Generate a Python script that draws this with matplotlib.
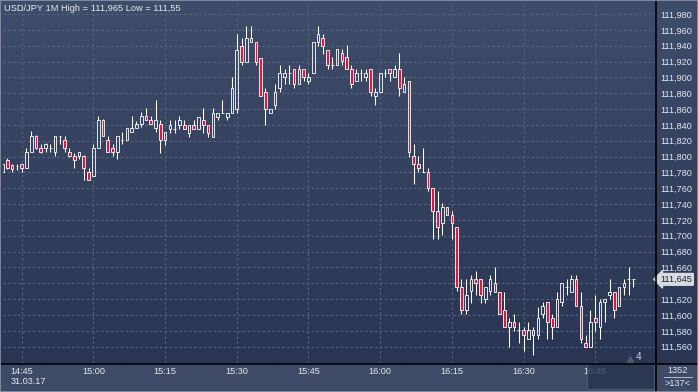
import numpy as np
import matplotlib

matplotlib.use("Agg")
from matplotlib import pyplot as plt
from matplotlib.lines import Line2D
from matplotlib.patches import Rectangle
from matplotlib.transforms import blended_transform_factory

# * ------------------------------------------------------------------ * #
# * DATA  (USD/JPY, 1 minute candles, 31.03.17; minute 0 = 14:45)

minutes = list(range(-4, 129))

opens = [
    111.781, 111.796, 111.789, 111.788, 111.790, 111.785, 111.806, 111.826, 111.811, 111.811,
    111.811, 111.806, 111.826, 111.821, 111.806, 111.801, 111.801, 111.801, 111.781, 111.776,
    111.811, 111.846, 111.821, 111.811, 111.806, 111.821, 111.821, 111.831, 111.836, 111.841,
    111.851, 111.846, 111.836, 111.841, 111.821, 111.835, 111.835, 111.840, 111.840, 111.830,
    111.840, 111.835, 111.846, 111.840, 111.825, 111.850, 111.855, 111.850, 111.855, 111.860,
    111.940, 111.920, 111.945, 111.945, 111.925, 111.881, 111.855, 111.865, 111.886, 111.900,
    111.905, 111.910, 111.891, 111.910, 111.896, 111.905, 111.945, 111.950, 111.935, 111.916,
    111.916, 111.931, 111.926, 111.911, 111.896, 111.905, 111.900, 111.911, 111.876, 111.881,
    111.905, 111.911, 111.900, 111.911, 111.881, 111.896, 111.801, 111.791, 111.780, 111.780,
    111.760, 111.731, 111.716, 111.736, 111.726, 111.711, 111.635, 111.606, 111.630, 111.645,
    111.645, 111.620, 111.630, 111.640, 111.629, 111.606, 111.585, 111.591, 111.581, 111.581,
    111.570, 111.581, 111.575, 111.601, 111.616, 111.596, 111.585, 111.616, 111.635, 111.629,
    111.645, 111.611, 111.565, 111.560, 111.596, 111.585, 111.616, 111.625, 111.629, 111.611,
    111.635, 111.645, 111.645,
]
highs = [
    111.791, 111.798, 111.791, 111.790, 111.791, 111.811, 111.832, 111.827, 111.816, 111.817,
    111.816, 111.826, 111.826, 111.826, 111.811, 111.805, 111.806, 111.802, 111.786, 111.816,
    111.851, 111.847, 111.826, 111.816, 111.826, 111.831, 111.836, 111.851, 111.845, 111.856,
    111.861, 111.851, 111.872, 111.846, 111.831, 111.846, 111.846, 111.851, 111.846, 111.840,
    111.846, 111.850, 111.861, 111.840, 111.861, 111.855, 111.871, 111.855, 111.900, 111.955,
    111.950, 111.965, 111.965, 111.945, 111.925, 111.886, 111.860, 111.891, 111.915, 111.910,
    111.915, 111.910, 111.915, 111.910, 111.905, 111.945, 111.965, 111.955, 111.935, 111.926,
    111.936, 111.936, 111.941, 111.916, 111.911, 111.911, 111.911, 111.911, 111.887, 111.905,
    111.911, 111.911, 111.916, 111.931, 111.900, 111.896, 111.816, 111.801, 111.811, 111.785,
    111.760, 111.756, 111.741, 111.736, 111.731, 111.711, 111.645, 111.645, 111.651, 111.656,
    111.645, 111.635, 111.651, 111.660, 111.629, 111.629, 111.596, 111.601, 111.591, 111.585,
    111.591, 111.585, 111.610, 111.616, 111.616, 111.601, 111.629, 111.640, 111.645, 111.650,
    111.650, 111.629, 111.575, 111.606, 111.625, 111.620, 111.620, 111.645, 111.629, 111.635,
    111.645, 111.660, 111.645,
]
lows = [
    111.781, 111.784, 111.781, 111.783, 111.780, 111.785, 111.806, 111.810, 111.805, 111.806,
    111.806, 111.801, 111.816, 111.806, 111.799, 111.786, 111.797, 111.770, 111.770, 111.775,
    111.811, 111.826, 111.806, 111.801, 111.797, 111.816, 111.821, 111.831, 111.836, 111.837,
    111.846, 111.841, 111.831, 111.805, 111.815, 111.830, 111.830, 111.835, 111.835, 111.825,
    111.835, 111.835, 111.830, 111.825, 111.825, 111.846, 111.855, 111.846, 111.855, 111.855,
    111.915, 111.920, 111.945, 111.915, 111.876, 111.840, 111.855, 111.860, 111.881, 111.891,
    111.891, 111.886, 111.891, 111.895, 111.891, 111.905, 111.940, 111.930, 111.910, 111.911,
    111.916, 111.916, 111.911, 111.887, 111.896, 111.896, 111.896, 111.876, 111.865, 111.881,
    111.900, 111.896, 111.900, 111.876, 111.881, 111.800, 111.765, 111.780, 111.780, 111.756,
    111.696, 111.696, 111.701, 111.726, 111.696, 111.630, 111.601, 111.601, 111.615, 111.625,
    111.615, 111.615, 111.625, 111.629, 111.601, 111.585, 111.560, 111.580, 111.565, 111.555,
    111.570, 111.550, 111.570, 111.596, 111.570, 111.570, 111.585, 111.611, 111.625, 111.629,
    111.611, 111.565, 111.560, 111.560, 111.580, 111.570, 111.591, 111.620, 111.596, 111.611,
    111.625, 111.625, 111.635,
]
closes = [
    111.791, 111.786, 111.784, 111.788, 111.785, 111.806, 111.826, 111.811, 111.806, 111.816,
    111.811, 111.826, 111.826, 111.811, 111.801, 111.796, 111.806, 111.786, 111.771, 111.811,
    111.846, 111.826, 111.806, 111.806, 111.826, 111.821, 111.836, 111.836, 111.841, 111.851,
    111.846, 111.841, 111.846, 111.821, 111.831, 111.840, 111.835, 111.846, 111.835, 111.840,
    111.835, 111.850, 111.840, 111.830, 111.855, 111.855, 111.855, 111.855, 111.886, 111.935,
    111.920, 111.950, 111.950, 111.920, 111.876, 111.860, 111.860, 111.881, 111.905, 111.905,
    111.905, 111.891, 111.910, 111.900, 111.900, 111.945, 111.955, 111.940, 111.915, 111.916,
    111.936, 111.921, 111.911, 111.892, 111.905, 111.905, 111.905, 111.881, 111.881, 111.905,
    111.905, 111.905, 111.911, 111.887, 111.892, 111.806, 111.791, 111.785, 111.780, 111.760,
    111.731, 111.711, 111.736, 111.726, 111.716, 111.635, 111.606, 111.625, 111.645, 111.640,
    111.625, 111.635, 111.645, 111.629, 111.601, 111.585, 111.591, 111.585, 111.581, 111.575,
    111.581, 111.575, 111.596, 111.611, 111.591, 111.585, 111.620, 111.640, 111.635, 111.645,
    111.611, 111.570, 111.560, 111.591, 111.591, 111.616, 111.620, 111.629, 111.606, 111.635,
    111.640, 111.645, 111.645,
]

time_ticks = [0, 15, 30, 45, 60, 75, 90, 105, 120]
time_labels = ["14:45", "15:00", "15:15", "15:30", "15:45", "16:00", "16:15", "16:30", "16:45"]
price_ticks = [
    111.56, 111.58, 111.60, 111.62, 111.64, 111.66, 111.68, 111.70, 111.72, 111.74, 111.76,
    111.78, 111.80, 111.82, 111.84, 111.86, 111.88, 111.90, 111.92, 111.94, 111.96, 111.98,
]
title = "USD/JPY 1M High = 111,965 Low = 111,55"
last_price = 111.645

# * ------------------------------------------------------------------ * #
# * LAYOUT (pixel geometry of the 698x392 terminal screenshot)

W, H = 698, 392
TEXT = "#e4e7ee"
RED = "#e3163f"
GRID = "#58647f"

plt.rcParams["font.family"] = ["Liberation Sans", "DejaVu Sans"]
fig = plt.figure(figsize=(W / 100, H / 100), dpi=100, facecolor="#3e4a66")


def fx(px):
    return px / W


def fy(py):
    return 1 - py / H


def fmt_price(v):
    return f"{v:.3f}".replace(".", ",")


# Gradient background behind plot and price scale
bg = fig.add_axes([0, fy(363), 1, fy(0) - fy(363)])
bg.set_zorder(-1)
grad = np.linspace(0, 1, 256)[:, None]
top_c = np.array([64, 77, 106]) / 255
bot_c = np.array([41, 53, 82]) / 255
bg.imshow(top_c + grad[..., None] * (bot_c - top_c), aspect="auto", extent=(0, 1, 0, 1))
bg.set_axis_off()

ax = fig.add_axes([fx(3), fy(363), fx(655) - fx(3), fy(1) - fy(363)])
ax.patch.set_alpha(0)
for s in ax.spines.values():
    s.set_visible(False)
ax.set_xlim(-3.91, 132.5)
ax.set_ylim(111.5394, 111.9964)

# Grid; the tick label under the price tag is hidden by the tag
ax.set_xticks(time_ticks, time_labels)
ax.set_yticks(
    price_ticks,
    ["" if abs(v - last_price) < 0.01 else fmt_price(v) for v in price_ticks],
)
ax.grid(True, color=GRID, linestyle=(0, (2.2, 2.2)), linewidth=0.8)
ax.yaxis.tick_right()
ax.tick_params(axis="both", length=0, labelsize=6.6, labelcolor=TEXT)
ax.tick_params(axis="x", pad=3)
ax.tick_params(axis="y", pad=3.6)

# * ------------------------------------------------------------------ * #
# * CANDLES

m = np.array(minutes)
o, hi, lo, c = (np.array(v) for v in (opens, highs, lows, closes))
top = np.maximum(o, c)
bot = np.minimum(o, c)
ax.vlines(m, top, hi, color="white", linewidth=0.75, zorder=3)
ax.vlines(m, lo, bot, color="white", linewidth=0.75, zorder=3)
ax.bar(
    m,
    top - bot,
    bottom=bot,
    width=0.56,
    color=["none" if up else RED for up in c >= o],
    edgecolor="white",
    linewidth=0.6,
    zorder=4,
)

# Current price tag
tr = blended_transform_factory(ax.transAxes, ax.transData)
ax.text(
    1.0 + 5 / 652,
    last_price,
    fmt_price(last_price),
    transform=tr,
    ha="left",
    va="center",
    fontsize=6.6,
    color="#1c2233",
    bbox=dict(boxstyle="larrow,pad=0.15", fc="#d9dbe1", ec="#d9dbe1"),
    zorder=6,
    clip_on=False,
)

# * ------------------------------------------------------------------ * #
# * TERMINAL DECORATIONS

fig.text(fx(4), fy(8.5), title, color=TEXT, fontsize=6.7, ha="left", va="center")
fig.text(fx(11), fy(382), "31.03.17", color=TEXT, fontsize=6.6, ha="left", va="center")

# Dark selection box in the time strip
fig.add_artist(
    Rectangle(
        (fx(587), fy(389)), fx(654) - fx(587), fy(364) - fy(389),
        transform=fig.transFigure, facecolor="#28324c", edgecolor="#56607a",
        linewidth=0.8, alpha=0.78, zorder=5,
    )
)
fig.add_artist(
    Line2D([fx(630)], [fy(359)], marker="^", markersize=4.5, color="#4f596e",
           transform=fig.transFigure, zorder=6)
)
fig.text(fx(639), fy(357.5), "4", color="#c4d2ee", fontsize=7.2, ha="center", va="center")

# Separators and frame
fig.add_artist(Line2D([0, 1], [fy(363.5)] * 2, color="black", linewidth=1.2,
                      transform=fig.transFigure, zorder=7))
fig.add_artist(Line2D([fx(655.5)] * 2, [0, 1], color="black", linewidth=1.2,
                      transform=fig.transFigure, zorder=7))
fig.add_artist(Rectangle((0, 0), 1, 1, transform=fig.transFigure, facecolor="none",
                         edgecolor="#8c95a6", linewidth=1.2, zorder=8))

# Bottom right counters
fig.text(fx(677.5), fy(370.5), "1352", color=TEXT, fontsize=6.6, ha="center", va="center")
fig.add_artist(Line2D([fx(664), fx(692)], [fy(377)] * 2, color="#b8bfcc", linewidth=0.7,
                      transform=fig.transFigure, zorder=7))
fig.text(fx(677.5), fy(383.5), ">137<", color=TEXT, fontsize=6.6, ha="center", va="center")

fig.savefig("out.png", dpi=100, facecolor=fig.get_facecolor())
